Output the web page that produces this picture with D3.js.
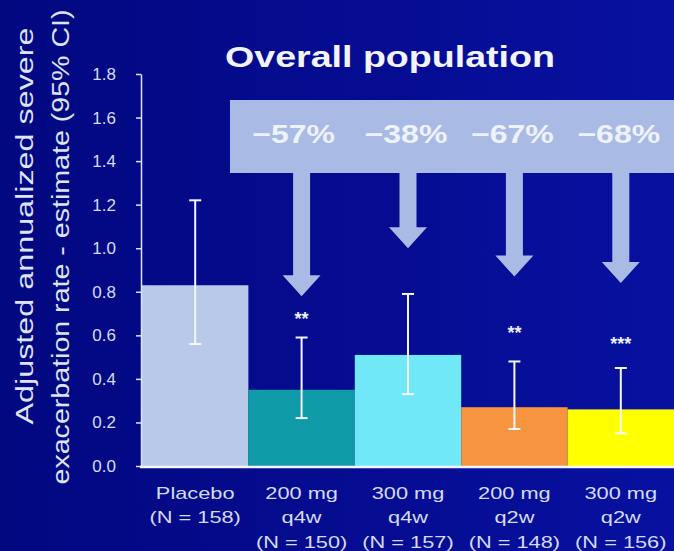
<!DOCTYPE html>
<html>
<head>
<meta charset="utf-8">
<script src="https://cdn.jsdelivr.net/npm/d3@7"></script>
<style>
  html, body { margin: 0; padding: 0; background: #04098a; }
  svg { display: block; font-family: "Liberation Sans", Arial, sans-serif; }
</style>
</head>
<body>
<div id="chart"></div>
<script>
// values
const groups = ["Placebo", "200 mg q4w", "300 mg q4w", "200 mg q2w", "300 mg q2w"];
const groupLabels = [
    ["Placebo", "(N = 158)"],
    ["200 mg", "q4w", "(N = 150)"],
    ["300 mg", "q4w", "(N = 157)"],
    ["200 mg", "q2w", "(N = 148)"],
    ["300 mg", "q2w", "(N = 156)"]
];
const rates = [0.83, 0.35, 0.51, 0.27, 0.26];
const ciLow = [0.56, 0.22, 0.33, 0.17, 0.15];
const ciHigh = [1.22, 0.59, 0.79, 0.48, 0.45];
const reductions = ["\u221257%", "\u221238%", "\u221267%", "\u221268%"];
const arrowEnd = [0.78, 1.0, 0.87, 0.84];   // where each arrow points (rate units)
const stars = ["", "**", "", "**", "***"];
const starLevel = [null, 0.68, null, 0.615, 0.565];
const yTicks = [0, 0.2, 0.4, 0.6, 0.8, 1.0, 1.2, 1.4, 1.6, 1.8];
const barColors = ["#b9c9e9", "#0e9aa6", "#70e8f8", "#f7943f", "#ffff00"];

const width = 674;
const height = 551;

const svg = d3.select("#chart")
    .append("svg")
    .attr("width", width)
    .attr("height", height);

// background, a bit brighter on the right like the slide
const defs = svg.append("defs");
const grad = defs.append("linearGradient")
    .attr("id", "bg")
    .attr("x1", "0%").attr("x2", "100%")
    .attr("y1", "0%").attr("y2", "0%");
grad.append("stop").attr("offset", "0%").attr("stop-color", "#020880");
grad.append("stop").attr("offset", "100%").attr("stop-color", "#0810a0");
svg.append("rect")
    .attr("width", width)
    .attr("height", height)
    .attr("fill", "url(#bg)");

const x = d3.scaleBand()
    .domain(groups)
    .range([142, 674])
    .padding(0);

const y = d3.scaleLinear()
    .domain([0, 1.8])
    .range([466, 74]);

function stretch(sel, k) {
    sel.each(function () {
        const w = this.getComputedTextLength();
        d3.select(this)
            .attr("textLength", w * k)
            .attr("lengthAdjust", "spacingAndGlyphs");
    });
}

// title
svg.append("text")
    .attr("x", 390)
    .attr("y", 67)
    .attr("text-anchor", "middle")
    .attr("fill", "#f2f4fc")
    .attr("font-size", 30)
    .attr("font-weight", "bold")
    .attr("textLength", 330)
    .attr("lengthAdjust", "spacingAndGlyphs")
    .text("Overall population");

// y axis title (two lines)
const yTitle = [
    { text: "Adjusted annualized severe", x: 33, y: 226, len: 397 },
    { text: "exacerbation rate - estimate (95% CI)", x: 69, y: 247, len: 475 }
];
svg.selectAll(".ytitle")
    .data(yTitle)
    .join("text")
    .attr("class", "ytitle")
    .attr("transform", d => `translate(${d.x},${d.y}) rotate(-90)`)
    .attr("text-anchor", "middle")
    .attr("fill", "#dfe3f6")
    .attr("font-size", 23)
    .attr("textLength", d => d.len)
    .attr("lengthAdjust", "spacingAndGlyphs")
    .text(d => d.text);

// bars
svg.selectAll(".bar")
    .data(groups)
    .join("rect")
    .attr("class", "bar")
    .attr("x", d => x(d))
    .attr("y", (d, i) => y(rates[i]))
    .attr("width", x.bandwidth())
    .attr("height", (d, i) => y(0) - y(rates[i]))
    .attr("fill", (d, i) => barColors[i]);

// error bars
const cx = d => x(d) + x.bandwidth() / 2;
const err = svg.append("g")
    .attr("stroke", "#f6f6ff")
    .attr("stroke-width", 2);
err.selectAll(".stem")
    .data(groups)
    .join("line")
    .attr("x1", cx).attr("x2", cx)
    .attr("y1", (d, i) => y(ciLow[i]))
    .attr("y2", (d, i) => y(ciHigh[i]));
err.selectAll(".capHi")
    .data(groups)
    .join("line")
    .attr("x1", d => cx(d) - 6).attr("x2", d => cx(d) + 6)
    .attr("y1", (d, i) => y(ciHigh[i]))
    .attr("y2", (d, i) => y(ciHigh[i]));
err.selectAll(".capLo")
    .data(groups)
    .join("line")
    .attr("x1", d => cx(d) - 6).attr("x2", d => cx(d) + 6)
    .attr("y1", (d, i) => y(ciLow[i]))
    .attr("y2", (d, i) => y(ciLow[i]));

// significance stars
svg.selectAll(".star")
    .data(groups.filter((d, i) => stars[i]))
    .join("text")
    .attr("class", "star")
    .attr("x", cx)
    .attr("y", d => y(starLevel[groups.indexOf(d)]) + 7)
    .attr("text-anchor", "middle")
    .attr("fill", "#eef0fb")
    .attr("font-size", 18)
    .attr("font-weight", "bold")
    .text(d => stars[groups.indexOf(d)]);

// reduction box and arrows
const boxTop = 100, boxBottom = 173;
svg.append("rect")
    .attr("x", 230)
    .attr("y", boxTop)
    .attr("width", width - 230)
    .attr("height", boxBottom - boxTop)
    .attr("fill", "#a9bbe4");

const treated = groups.slice(1);
svg.selectAll(".arrow")
    .data(treated)
    .join("path")
    .attr("class", "arrow")
    .attr("fill", "#a9bbe4")
    .attr("d", (d, i) => {
        const c = cx(d), tip = y(arrowEnd[i]), head = tip - 21;
        return `M${c - 8.5},${boxBottom - 1}L${c + 8.5},${boxBottom - 1}L${c + 8.5},${head}` +
            `L${c + 19},${head}L${c},${tip}L${c - 19},${head}L${c - 8.5},${head}Z`;
    });

svg.selectAll(".pct")
    .data(treated)
    .join("text")
    .attr("class", "pct")
    .attr("x", (d, i) => cx(d) - (i === 0 ? 8 : 2))
    .attr("y", 143)
    .attr("text-anchor", "middle")
    .attr("fill", "#eef2fc")
    .attr("font-size", 25)
    .attr("font-weight", "bold")
    .text((d, i) => reductions[i])
    .call(stretch, 1.28);

// y axis
const yAxis = svg.append("g")
    .attr("transform", "translate(141,0)")
    .call(d3.axisLeft(y)
        .tickValues(yTicks)
        .tickFormat(d3.format(".1f"))
        .tickSize(5)
        .tickSizeOuter(0)
        .tickPadding(20));
yAxis.select(".domain").attr("stroke", "#dfe3f6").attr("stroke-width", 1.5);
yAxis.selectAll(".tick line").attr("stroke", "#dfe3f6").attr("stroke-width", 1.5);
yAxis.selectAll(".tick text")
    .attr("fill", "#d6dcf4")
    .attr("font-size", 17)
    .attr("font-family", "\"Liberation Sans\", Arial, sans-serif");

// baseline
svg.append("line")
    .attr("x1", 140).attr("x2", width)
    .attr("y1", y(0) + 1).attr("y2", y(0) + 1)
    .attr("stroke", "#f4f6ff")
    .attr("stroke-width", 2.5);

// category labels
const lineY = [499, 523, 548];
const lab = svg.selectAll(".xlab")
    .data(groups)
    .join("g")
    .attr("class", "xlab");
lab.selectAll("text")
    .data((d, i) => groupLabels[i].map((t, j) => ({ t, j, g: d })))
    .join("text")
    .attr("x", d => cx(d.g))
    .attr("y", d => lineY[d.j])
    .attr("text-anchor", "middle")
    .attr("fill", "#d4dbf5")
    .attr("font-size", 17)
    .text(d => d.t)
    .call(stretch, 1.28);
</script>
</body>
</html>
